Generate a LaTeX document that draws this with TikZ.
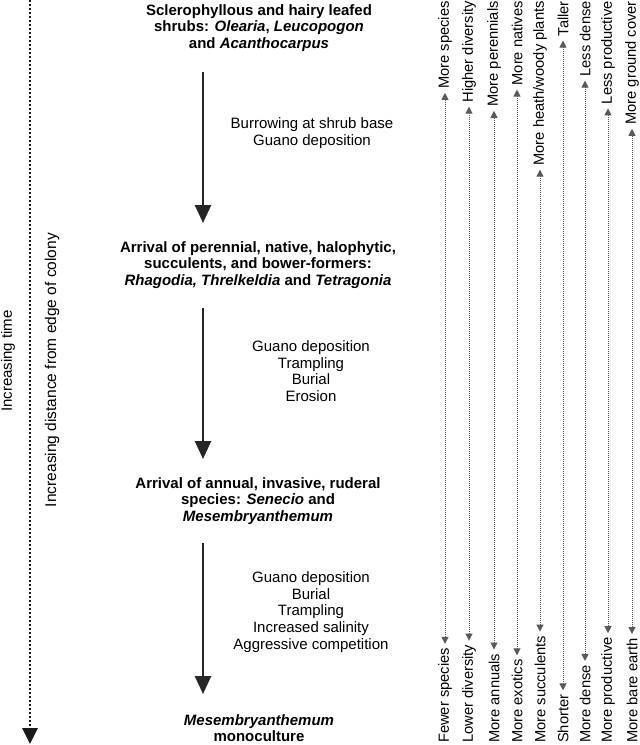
\documentclass[tikz,border=0pt]{standalone}
\usepackage{fontspec}
\setmainfont{Liberation Sans}
\usetikzlibrary{arrows.meta}
\begin{document}
\begin{tikzpicture}[x=1pt,y=-1pt,
  titlebox/.style={font=\fontsize{15}{16.7}\selectfont\bfseries, align=center, inner sep=0pt},
  procbox/.style={font=\fontsize{15}{16.7}\selectfont, align=center, inner sep=0pt},
  axislab/.style={font=\fontsize{15}{16.7}\selectfont, rotate=90, inner sep=0pt},
  toplab/.style={font=\fontsize{14.7}{16}\selectfont, rotate=90, anchor=east, inner sep=0pt},
  botlab/.style={font=\fontsize{14.7}{16}\selectfont, rotate=90, anchor=west, inner sep=0pt},
  mainarrow/.style={line width=2.6pt, draw=black!85, -{Triangle[width=16pt,length=18pt]}},
  timearrow/.style={line width=2.6pt, draw=black!90, dash pattern=on 2pt off 2pt, -{Triangle[width=15pt,length=16pt]}},
  sidearrow/.style={line width=1pt, draw=black!65, dash pattern=on 1pt off 1pt, {Triangle[width=7pt,length=7pt]}-{Triangle[width=7pt,length=7pt]}, shorten <=4pt, shorten >=4pt}
]
\useasboundingbox (0,0) rectangle (640,745);

% left axes
\coordinate (ts) at (30,0);
\coordinate (te) at (30,744);
\draw[timearrow] (ts) -- (te);
\node[axislab] (ltime) at (8,361) {Increasing time};
\node[axislab, font=\fontsize{15.5}{17}\selectfont] (ldist) at (52,370) {Increasing distance from edge of colony};

% main sequence
\node[titlebox] (t1) at (259,28) {Sclerophyllous and hairy leafed\\shrubs: \textit{Olearia}, \textit{Leucopogon}\\and \textit{Acanthocarpus}};
\node[procbox] (p1) at (312,133) {Burrowing at shrub base\\Guano deposition};
\node[titlebox] (t2) at (258,265) {Arrival of perennial, native, halophytic,\\succulents, and bower-formers:\\\textit{Rhagodia, Threlkeldia} and \textit{Tetragonia}};
\node[procbox] (p2) at (311,371) {Guano deposition\\Trampling\\Burial\\Erosion};
\node[titlebox] (t3) at (258,501) {Arrival of annual, invasive, ruderal\\species: \textit{Senecio} and\\\textit{Mesembryanthemum}};
\node[procbox] (p3) at (311,612) {Guano deposition\\Burial\\Trampling\\Increased salinity\\Aggressive competition};
\node[titlebox] (t4) at (259,728) {\textit{Mesembryanthemum}\\monoculture};

\coordinate (a1s) at (203,72);
\coordinate (a1e) at (203,223);
\coordinate (a2s) at (203,308);
\coordinate (a2e) at (203,459);
\coordinate (a3s) at (203,543);
\coordinate (a3e) at (203,694);
\draw[mainarrow] (a1s) -- (a1e);
\draw[mainarrow] (a2s) -- (a2e);
\draw[mainarrow] (a3s) -- (a3e);

% right-hand gradients
\node[toplab] (u1) at (445,1) {More species};
\node[botlab] (d1) at (445,743) {Fewer species};
\node[toplab] (u2) at (469,1) {Higher diversity};
\node[botlab] (d2) at (469,743) {Lower diversity};
\node[toplab] (u3) at (494,1) {More perennials};
\node[botlab] (d3) at (494,743) {More annuals};
\node[toplab] (u4) at (517,1) {More natives};
\node[botlab] (d4) at (517,743) {More exotics};
\node[toplab] (u5) at (540,1) {More heath/woody plants};
\node[botlab] (d5) at (540,743) {More succulents};
\node[toplab] (u6) at (563,1) {Taller};
\node[botlab] (d6) at (563,743) {Shorter};
\node[toplab] (u7) at (585,1) {Less dense};
\node[botlab] (d7) at (585,743) {More dense};
\node[toplab] (u8) at (608,1) {Less productive};
\node[botlab] (d8) at (608,743) {More productive};
\node[toplab] (u9) at (632,1) {More ground cover};
\node[botlab] (d9) at (632,743) {More bare earth};

\draw[sidearrow] (d1) -- (u1);
\draw[sidearrow] (d2) -- (u2);
\draw[sidearrow] (d3) -- (u3);
\draw[sidearrow] (d4) -- (u4);
\draw[sidearrow] (d5) -- (u5);
\draw[sidearrow] (d6) -- (u6);
\draw[sidearrow] (d7) -- (u7);
\draw[sidearrow] (d8) -- (u8);
\draw[sidearrow] (d9) -- (u9);
\end{tikzpicture}
\end{document}
